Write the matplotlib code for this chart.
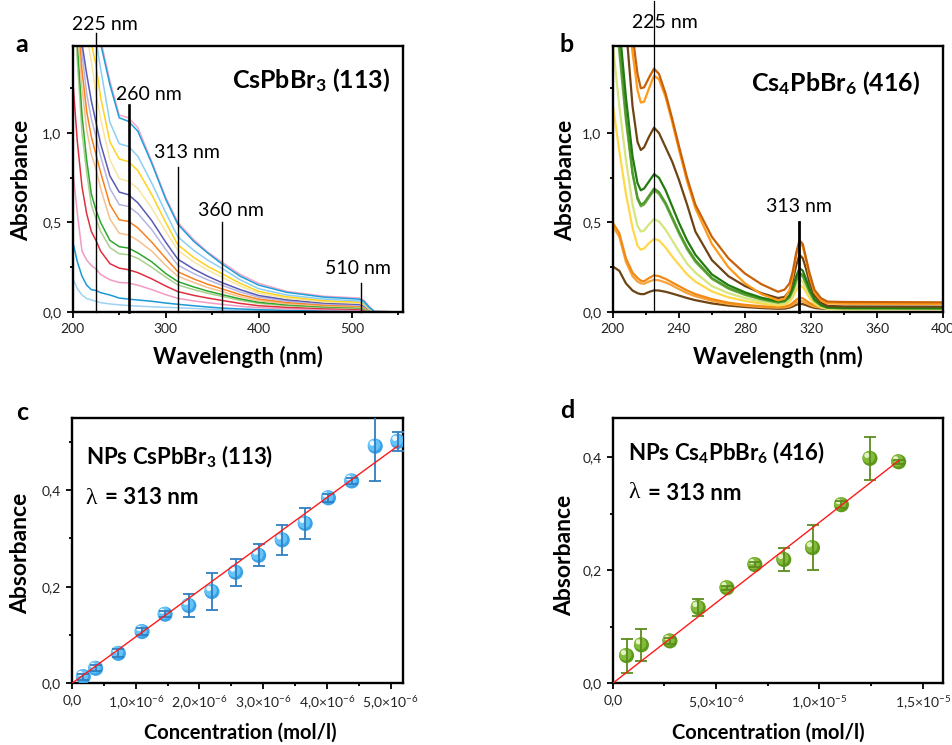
import matplotlib
matplotlib.use("Agg")
import matplotlib.pyplot as plt
import matplotlib.transforms as mtransforms
from matplotlib.ticker import MultipleLocator, FuncFormatter
import numpy as np

plt.rcParams['font.family'] = ['Lato', 'DejaVu Sans']
plt.rcParams['mathtext.fontset'] = 'custom'
plt.rcParams['mathtext.rm'] = 'Lato'
plt.rcParams['mathtext.bf'] = 'Lato:bold'
plt.rcParams['mathtext.it'] = 'Lato:italic'

W, H = 953, 745

# ---------------- Panel a data: CsPbBr3 spectra ----------------
wl_a = [200, 205, 210, 215, 220, 225, 230, 240, 250, 260, 270, 285, 300, 313,
        330, 345, 360, 380, 400, 430, 470, 508, 513, 518, 524, 555]
a_pink_top = [3.0, 2.8, 2.6, 2.3, 2.0, 1.75, 1.52, 1.29, 1.10, 1.085, 1.03, 0.84, 0.64, 0.50, 0.405, 0.335, 0.28, 0.21, 0.16, 0.115, 0.088, 0.078, 0.065, 0.035, 0.005, 0.0]
a_blue_top = [3.0, 2.8, 2.6, 2.3, 2.0, 1.74, 1.50, 1.27, 1.085, 1.065, 1.01, 0.83, 0.63, 0.49, 0.395, 0.33, 0.27, 0.20, 0.15, 0.11, 0.083, 0.072, 0.06, 0.03, 0.003, 0.0]
a_lightblue = [3.0, 2.7, 2.4, 2.1, 1.8, 1.52, 1.36, 1.06, 0.94, 0.925, 0.87, 0.72, 0.555, 0.42, 0.345, 0.29, 0.245, 0.18, 0.13, 0.095, 0.072, 0.062, 0.05, 0.025, 0.003, 0.0]
a_yellow = [2.8, 2.4, 2.0, 1.7, 1.5, 1.38, 1.2, 0.95, 0.855, 0.84, 0.79, 0.655, 0.50, 0.375, 0.305, 0.255, 0.215, 0.16, 0.115, 0.085, 0.063, 0.055, 0.045, 0.02, 0.002, 0.0]
a_paleyellow = [2.7, 2.2, 1.8, 1.55, 1.4, 1.22, 1.08, 0.85, 0.745, 0.73, 0.69, 0.58, 0.45, 0.345, 0.28, 0.235, 0.195, 0.145, 0.105, 0.077, 0.056, 0.049, 0.04, 0.018, 0.0, 0.0]
a_slate = [2.5, 1.9, 1.5, 1.33, 1.18, 1.06, 0.94, 0.76, 0.67, 0.655, 0.61, 0.51, 0.39, 0.295, 0.24, 0.2, 0.165, 0.125, 0.092, 0.068, 0.05, 0.043, 0.035, 0.015, 0.0, 0.0]
a_lavender = [2.4, 1.8, 1.45, 1.22, 1.08, 0.98, 0.87, 0.69, 0.60, 0.59, 0.55, 0.46, 0.35, 0.262, 0.215, 0.18, 0.15, 0.112, 0.083, 0.061, 0.045, 0.038, 0.03, 0.012, 0.0, 0.0]
a_orange = [2.3, 1.7, 1.35, 1.12, 0.98, 0.88, 0.78, 0.60, 0.515, 0.506, 0.47, 0.39, 0.30, 0.225, 0.185, 0.155, 0.13, 0.097, 0.072, 0.053, 0.039, 0.033, 0.026, 0.01, 0.0, 0.0]
a_peach = [2.2, 1.6, 1.25, 1.02, 0.88, 0.80, 0.69, 0.52, 0.44, 0.43, 0.40, 0.34, 0.26, 0.20, 0.165, 0.137, 0.115, 0.085, 0.063, 0.046, 0.034, 0.028, 0.022, 0.008, 0.0, 0.0]
a_green = [2.0, 1.5, 1.1, 0.85, 0.66, 0.57, 0.50, 0.40, 0.365, 0.357, 0.33, 0.28, 0.215, 0.17, 0.14, 0.117, 0.098, 0.073, 0.054, 0.04, 0.029, 0.024, 0.018, 0.006, 0.0, 0.0]
a_lightgreen = [1.9, 1.4, 1.0, 0.78, 0.60, 0.52, 0.45, 0.36, 0.325, 0.32, 0.30, 0.25, 0.195, 0.151, 0.125, 0.105, 0.088, 0.065, 0.048, 0.035, 0.025, 0.02, 0.015, 0.005, 0.0, 0.0]
a_red = [1.30, 0.95, 0.70, 0.55, 0.45, 0.40, 0.34, 0.27, 0.245, 0.236, 0.22, 0.185, 0.145, 0.114, 0.093, 0.078, 0.065, 0.048, 0.035, 0.026, 0.019, 0.015, 0.011, 0.003, 0.0, 0.0]
a_pink_low = [0.80, 0.55, 0.34, 0.29, 0.26, 0.24, 0.21, 0.18, 0.165, 0.162, 0.15, 0.125, 0.097, 0.076, 0.062, 0.052, 0.043, 0.032, 0.024, 0.018, 0.013, 0.01, 0.007, 0.002, 0.0, 0.0]
a_blue_low = [0.395, 0.28, 0.20, 0.15, 0.125, 0.12, 0.108, 0.095, 0.078, 0.072, 0.067, 0.06, 0.05, 0.043, 0.035, 0.028, 0.022, 0.017, 0.013, 0.009, 0.006, 0.005, 0.003, 0.001, 0.0, 0.0]
a_lightblue_low = [0.19, 0.13, 0.095, 0.075, 0.067, 0.06, 0.052, 0.045, 0.04, 0.036, 0.033, 0.029, 0.026, 0.024, 0.02, 0.016, 0.012, 0.009, 0.007, 0.005, 0.003, 0.002, 0.001, 0.0, 0.0, 0.0]

a_series = [a_lightblue_low, a_blue_low, a_pink_low, a_red, a_lightgreen, a_green,
            a_peach, a_orange, a_lavender, a_slate, a_paleyellow, a_yellow,
            a_lightblue, a_pink_top, a_blue_top]
a_colors = ['#9fd2f3', '#1b9ad6', '#f29ac3', '#e0303f', '#a9d18e', '#2ea62e',
            '#f4c18f', '#f7821f', '#b5b5e3', '#5a5ab4', '#f7e6a2', '#ffd21f',
            '#8ccff5', '#f4a6c8', '#1f9fd9']
a_marks = [225, 260, 313, 360, 510]
a_mark_tops = [1.56, 1.156, 0.81, 0.50, 0.164]

# ---------------- Panel b data: Cs4PbBr6 spectra ----------------
wl_b = [200, 204, 208, 212, 215, 217, 219, 222, 225, 228, 232, 236, 240, 245, 250,
        260, 270, 280, 290, 300, 304, 307, 309, 311, 313, 315, 317, 319, 322, 326,
        330, 340, 400]
b_darkorange = [3.0, 2.4, 1.9, 1.55, 1.33, 1.25, 1.255, 1.31, 1.36, 1.33, 1.22, 1.08, 0.93, 0.75, 0.60,
                0.42, 0.30, 0.215, 0.155, 0.113, 0.125, 0.16, 0.23, 0.33, 0.40, 0.38, 0.30, 0.22, 0.125, 0.077,
                0.058, 0.056, 0.054]
b_orange = [3.0, 2.3, 1.8, 1.45, 1.24, 1.17, 1.175, 1.25, 1.32, 1.30, 1.20, 1.06, 0.91, 0.73, 0.58,
            0.38, 0.25, 0.16, 0.10, 0.065, 0.074, 0.123, 0.205, 0.315, 0.39, 0.365, 0.288, 0.20, 0.11, 0.064,
            0.048, 0.046, 0.045]
b_brown = [3.0, 2.2, 1.6, 1.15, 0.95, 0.905, 0.92, 0.98, 1.03, 1.0, 0.92, 0.84, 0.74, 0.60, 0.45,
           0.29, 0.20, 0.145, 0.105, 0.078, 0.084, 0.118, 0.178, 0.26, 0.32, 0.30, 0.24, 0.167, 0.093, 0.052,
           0.034, 0.031, 0.03]
b_darkgreen = [2.2, 1.6, 1.2, 0.87, 0.72, 0.68, 0.69, 0.73, 0.77, 0.75, 0.68, 0.59, 0.50, 0.40, 0.32,
               0.21, 0.15, 0.11, 0.08, 0.06, 0.067, 0.093, 0.139, 0.20, 0.245, 0.231, 0.183, 0.132, 0.074, 0.041,
               0.026, 0.023, 0.022]
b_green = [2.0, 1.5, 1.1, 0.78, 0.64, 0.60, 0.61, 0.65, 0.69, 0.67, 0.61, 0.53, 0.45, 0.36, 0.29,
           0.19, 0.135, 0.10, 0.073, 0.055, 0.061, 0.085, 0.126, 0.18, 0.22, 0.206, 0.163, 0.118, 0.066, 0.037,
           0.024, 0.021, 0.02]
b_midgreen = [1.95, 1.45, 1.07, 0.77, 0.63, 0.59, 0.60, 0.64, 0.68, 0.66, 0.60, 0.52, 0.44, 0.35, 0.28,
              0.185, 0.13, 0.095, 0.07, 0.052, 0.058, 0.081, 0.12, 0.172, 0.21, 0.197, 0.156, 0.113, 0.063, 0.035,
              0.023, 0.021, 0.02]
b_yellowgreen = [1.5, 1.15, 0.85, 0.60, 0.48, 0.45, 0.455, 0.49, 0.52, 0.505, 0.46, 0.40, 0.34, 0.27, 0.22,
                 0.145, 0.105, 0.078, 0.058, 0.045, 0.05, 0.07, 0.102, 0.146, 0.18, 0.168, 0.133, 0.097, 0.055, 0.03,
                 0.02, 0.018, 0.018]
b_yellow = [1.16, 0.90, 0.66, 0.47, 0.37, 0.348, 0.355, 0.385, 0.408, 0.40, 0.36, 0.31, 0.265, 0.21, 0.17,
            0.115, 0.082, 0.062, 0.047, 0.036, 0.041, 0.058, 0.085, 0.122, 0.15, 0.14, 0.111, 0.081, 0.046, 0.025,
            0.017, 0.015, 0.015]
b_orange_low = [0.50, 0.44, 0.30, 0.22, 0.19, 0.175, 0.172, 0.19, 0.205, 0.20, 0.185, 0.165, 0.145, 0.12, 0.10,
                0.072, 0.052, 0.04, 0.032, 0.028, 0.031, 0.038, 0.051, 0.068, 0.08, 0.076, 0.064, 0.051, 0.037, 0.03,
                0.028, 0.027, 0.027]
b_orange_low2 = [0.48, 0.42, 0.28, 0.20, 0.17, 0.16, 0.158, 0.17, 0.18, 0.177, 0.165, 0.148, 0.128, 0.105, 0.088,
                 0.062, 0.045, 0.035, 0.028, 0.024, 0.026, 0.031, 0.041, 0.054, 0.062, 0.059, 0.05, 0.041, 0.03, 0.025,
                 0.024, 0.023, 0.023]
b_brown_low = [0.255, 0.23, 0.16, 0.12, 0.105, 0.10, 0.10, 0.112, 0.121, 0.12, 0.113, 0.103, 0.092, 0.078, 0.066,
               0.048, 0.036, 0.028, 0.022, 0.018, 0.019, 0.024, 0.031, 0.04, 0.046, 0.044, 0.038, 0.031, 0.023, 0.019,
               0.018, 0.018, 0.018]

b_series = [b_brown_low, b_orange_low2, b_orange_low, b_yellow, b_yellowgreen,
            b_midgreen, b_green, b_darkgreen, b_brown, b_orange, b_darkorange]
b_colors = ['#6e4414', '#f7a23a', '#f08a14', '#ffd84a', '#d5e67e',
            '#74ad4a', '#4e9a2a', '#237a10', '#6e4414', '#ff9a1a', '#c8620a']

# ---------------- Panel c data ----------------
conc_c = [0.178e-6, 0.372e-6, 0.728e-6, 1.10e-6, 1.462e-6, 1.834e-6, 2.196e-6, 2.568e-6,
          2.93e-6, 3.30e-6, 3.66e-6, 4.025e-6, 4.39e-6, 4.76e-6, 5.115e-6]
abs_c = [0.0138, 0.031, 0.062, 0.107, 0.143, 0.161, 0.190, 0.230, 0.265, 0.297, 0.331,
         0.384, 0.419, 0.491, 0.501]
err_c = [0.006, 0.006, 0.008, 0.008, 0.006, 0.024, 0.038, 0.028, 0.023, 0.031, 0.033,
         0.008, 0.006, 0.072, 0.019]
slope_c = 9.61e4

# ---------------- Panel d data ----------------
conc_d = [0.67e-6, 1.39e-6, 2.77e-6, 4.14e-6, 5.53e-6, 6.88e-6, 8.28e-6, 9.67e-6,
          11.07e-6, 12.45e-6, 13.84e-6]
abs_d = [0.049, 0.068, 0.075, 0.134, 0.169, 0.210, 0.219, 0.240, 0.316, 0.398, 0.392]
err_d = [0.030, 0.028, 0.006, 0.015, 0.004, 0.005, 0.020, 0.040, 0.006, 0.038, 0.004]
slope_d = 2.847e4

fig = plt.figure(figsize=(W / 100, H / 100), dpi=100)


def px_axes(l, t, r, b):
    return fig.add_axes([l / W, 1 - b / H, (r - l) / W, (b - t) / H])


def ftext(x, y, s, **kw):
    fig.text(x / W, 1 - y / H, s, **kw)


def comma(fmt):
    return FuncFormatter(lambda v, p: (fmt % v).replace('.', ','))


def style(ax):
    for sp in ax.spines.values():
        sp.set_linewidth(1.7)
    ax.tick_params(which='both', direction='out', top=False, right=False,
                   labelsize=10, labelcolor='#222222', width=1.3)
    ax.tick_params(which='major', length=4, pad=4)
    ax.tick_params(which='minor', length=2.5)


def conc_fmt(v, p):
    if v < 1e-12:
        return '0,0' if abs(v) < 1e-12 else ''
    exp = int(np.floor(np.log10(v) + 1e-9))
    m = v / 10 ** exp
    return ('%.1f' % m).replace('.', ',') + r'×10$^{%d}$' % exp


# ---- panel a ----
axa = px_axes(72.7, 46, 403, 312)
for ys, c in zip(a_series, a_colors):
    axa.plot(wl_a, ys, color=c, lw=1.1)
axa.set_xlim(200, 555)
axa.set_ylim(0, 1.486)
axa.xaxis.set_major_locator(MultipleLocator(100))
axa.xaxis.set_minor_locator(MultipleLocator(50))
axa.yaxis.set_major_locator(MultipleLocator(0.5))
axa.yaxis.set_minor_locator(MultipleLocator(0.25))
axa.yaxis.set_major_formatter(comma('%.1f'))
style(axa)
for wl, top in zip(a_marks, a_mark_tops):
    axa.plot([wl, wl], [0, top], color='black', lw=1.9 if wl == 260 else 1.0,
             clip_on=False, zorder=5)

# ---- panel b ----
axb = px_axes(612.7, 46, 943.3, 312)
for ys, c in zip(b_series, b_colors):
    axb.plot(wl_b, ys, color=c, lw=1.6)
axb.set_xlim(200, 400)
axb.set_ylim(0, 1.486)
axb.xaxis.set_major_locator(MultipleLocator(40))
axb.xaxis.set_minor_locator(MultipleLocator(20))
axb.yaxis.set_major_locator(MultipleLocator(0.5))
axb.yaxis.set_minor_locator(MultipleLocator(0.25))
axb.yaxis.set_major_formatter(comma('%.1f'))
style(axb)
axb.plot([225, 225], [0, 1.74], color='black', lw=0.9, clip_on=False, zorder=5)
axb.plot([313, 313], [0, 0.50], color='black', lw=2.0, clip_on=False, zorder=5)


def sphere(ax, x, y, dark, mid, light):
    off1 = mtransforms.offset_copy(ax.transData, fig=fig, x=-0.9, y=0.9, units='points')
    off2 = mtransforms.offset_copy(ax.transData, fig=fig, x=-2.2, y=2.2, units='points')
    ax.scatter(x, y, s=118, color=dark, edgecolors='none', zorder=3)
    ax.scatter(x, y, s=78, color=mid, edgecolors='none', zorder=3.1, transform=off1)
    ax.scatter(x, y, s=14, color=light, edgecolors='none', zorder=3.2, transform=off2)


# ---- panel c ----
axc = px_axes(72, 417.7, 403.3, 683.3)
sphere(axc, conc_c, abs_c, '#3aa2e6', '#66c3f7', '#e8f7ff')
axc.errorbar(conc_c, abs_c, yerr=err_c, fmt='none', ecolor='#2f7fc0', elinewidth=1.3,
             capsize=4, capthick=1.3, zorder=4)
axc.plot([0, conc_c[-1]], [0, slope_c * conc_c[-1]], color='#ff1a1a', lw=1.0, zorder=5)
axc.set_xlim(0, 5.2e-6)
axc.set_ylim(0, 0.55)
axc.xaxis.set_major_locator(MultipleLocator(1e-6))
axc.xaxis.set_minor_locator(MultipleLocator(0.5e-6))
axc.yaxis.set_major_locator(MultipleLocator(0.2))
axc.yaxis.set_minor_locator(MultipleLocator(0.1))
axc.xaxis.set_major_formatter(FuncFormatter(conc_fmt))
axc.yaxis.set_major_formatter(comma('%.1f'))
style(axc)

# ---- panel d ----
axd = px_axes(612.7, 417.7, 943.3, 683.3)
sphere(axd, conc_d, abs_d, '#5e9a1a', '#84ba3c', '#e2f2c4')
axd.errorbar(conc_d, abs_d, yerr=err_d, fmt='none', ecolor='#5b8c1c', elinewidth=1.3,
             capsize=4, capthick=1.3, zorder=4)
axd.plot([0, conc_d[-1]], [0, slope_d * conc_d[-1]], color='#ff1a1a', lw=1.0, zorder=5)
axd.set_xlim(0, 1.6e-5)
axd.set_ylim(0, 0.47)
axd.xaxis.set_major_locator(MultipleLocator(5e-6))
axd.xaxis.set_minor_locator(MultipleLocator(2.5e-6))
axd.yaxis.set_major_locator(MultipleLocator(0.2))
axd.yaxis.set_minor_locator(MultipleLocator(0.1))
axd.xaxis.set_major_formatter(FuncFormatter(conc_fmt))
axd.yaxis.set_major_formatter(comma('%.1f'))
style(axd)

# ---- texts ----
for s, x, y in [('a', 22, 45), ('b', 567, 45), ('c', 22, 412), ('d', 567, 410)]:
    ftext(x, y, s, fontsize=18, fontweight='bold', ha='center', va='center')

for x, y in [(22, 180), (566, 180), (21, 553), (565, 555)]:
    ftext(x, y, 'Absorbance', fontsize=16.5, fontweight='bold', rotation=90,
          ha='center', va='center')
for x, y in [(238, 357), (778, 357)]:
    ftext(x, y, 'Wavelength (nm)', fontsize=16, fontweight='bold', ha='center', va='center')
for x, y in [(240, 733), (768, 733)]:
    ftext(x, y, 'Concentration (mol/l)', fontsize=14.5, fontweight='bold', ha='center', va='center')

for s, x, y in [('225 nm', 105, 24), ('260 nm', 149, 95), ('313 nm', 187, 153),
                ('360 nm', 231, 211), ('510 nm', 358, 269), ('225 nm', 665, 22),
                ('313 nm', 799, 207)]:
    ftext(x, y, s, fontsize=14, ha='center', va='center')

ftext(311, 80, r'CsPbBr$_\mathbf{3}$ (113)', fontsize=18, fontweight='bold', ha='center', va='center')
ftext(836, 83, r'Cs$_\mathbf{4}$PbBr$_\mathbf{6}$ (416)', fontsize=18, fontweight='bold',
      ha='center', va='center')
ftext(86, 457, r'NPs CsPbBr$_\mathbf{3}$ (113)', fontsize=16, fontweight='bold', ha='left', va='center')
ftext(628, 453, r'NPs Cs$_\mathbf{4}$PbBr$_\mathbf{6}$ (416)', fontsize=16, fontweight='bold',
      ha='left', va='center')
for x, y in [(85, 498), (628, 493)]:
    ftext(x, y, 'λ', fontsize=17, family=['Liberation Serif', 'DejaVu Serif'], ha='left', va='center')
    ftext(x + 20, y, '= 313 nm', fontsize=16, fontweight='bold', ha='left', va='center')

fig.savefig('out.png', dpi=100)
